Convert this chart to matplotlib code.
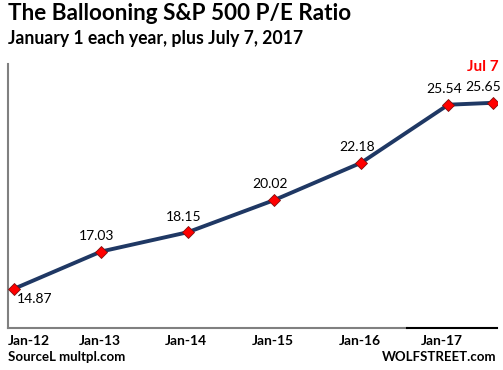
import numpy as np
import matplotlib.pyplot as plt
import matplotlib.dates as mdates
from datetime import datetime, timedelta

# data
dates = [datetime(2012, 1, 1), datetime(2013, 1, 1), datetime(2014, 1, 1),
         datetime(2015, 1, 1), datetime(2016, 1, 1), datetime(2017, 1, 1),
         datetime(2017, 7, 7)]
pe_ratio = [14.87, 17.03, 18.15, 20.02, 22.18, 25.54, 25.65]
tick_dates = dates[:6]
tick_labels = ["Jan-12", "Jan-13", "Jan-14", "Jan-15", "Jan-16", "Jan-17"]

plt.rcParams['font.family'] = ['Lato', 'DejaVu Sans']

W, H = 503, 370
fig = plt.figure(figsize=(W / 100, H / 100), dpi=100)
ax = fig.add_axes([8 / W, (H - 328) / H, (497 - 8) / W, (328 - 64) / H])

xnum = mdates.date2num(dates)
ax.plot(xnum, pe_ratio, color='#1f3864', lw=2.8, zorder=2,
        solid_capstyle='round')
ax.plot(xnum, pe_ratio, ls='none', marker='D', ms=6.5, mfc='#ff0000',
        mec='#7f1010', mew=0.6, zorder=3)

x0 = mdates.date2num(datetime(2012, 1, 1) - timedelta(days=25))
x1 = mdates.date2num(datetime(2017, 7, 7) + timedelta(days=18))
ax.set_xlim(x0, x1)
ax.set_ylim(12.6, 27.9)

for s in ['top', 'right', 'bottom']:
    ax.spines[s].set_visible(False)
ax.spines['left'].set_color('#808080')
ax.spines['left'].set_linewidth(1.5)
ax.set_yticks([])
ax.set_xticks([])

# bottom axis: grey then black segment
split = mdates.date2num(datetime(2016, 7, 10))
ax.plot([x0, split], [12.6, 12.6], color='#808080', lw=1.5, clip_on=False)
ax.plot([split, x1], [12.6, 12.6], color='black', lw=1.5, clip_on=False)

# tick labels
for i, (d, lab) in enumerate(zip(tick_dates, tick_labels)):
    xd = mdates.date2num(d)
    if i == 0:
        ax.annotate(lab, (x0, 12.6), xytext=(0, -5), textcoords='offset points',
                    ha='left', va='top', fontsize=10, fontweight='bold')
    else:
        dx = -5 if i == 5 else -1
        ax.annotate(lab, (xd, 12.6), xytext=(dx, -5), textcoords='offset points',
                    ha='center', va='top', fontsize=10, fontweight='bold')

# data labels
for i, (xd, v) in enumerate(zip(xnum, pe_ratio)):
    if i == 0:
        ax.annotate(f"{v:.2f}", (xd, v), xytext=(2, -3), textcoords='offset points',
                    ha='left', va='top', fontsize=10)
    else:
        ax.annotate(f"{v:.2f}", (xd, v), xytext=(-7 if i == 6 else -3, 7),
                    textcoords='offset points', ha='center', va='bottom', fontsize=10)
ax.annotate("Jul 7", (xnum[-1], pe_ratio[-1]), xytext=(-7, 21),
            textcoords='offset points', ha='center', va='bottom',
            fontsize=11, fontweight='bold', color='#ff0000')

fig.text(8 / W, 1 - 3 / H, "The Ballooning S&P 500 P/E Ratio", ha='left', va='top',
         fontsize=16.2, fontweight='bold')
fig.text(8 / W, 1 - 30 / H, "January 1 each year, plus July 7, 2017", ha='left',
         va='top', fontsize=12.7, fontweight='bold')
fig.text(8 / W, 1 - 351 / H, "SourceL multpl.com", ha='left', va='top',
         fontsize=9.5, fontweight='bold')
fig.text(496 / W, 1 - 351 / H, "WOLFSTREET.com", ha='right', va='top',
         fontsize=9.5, fontweight='bold')

fig.savefig("out.png", dpi=100)
